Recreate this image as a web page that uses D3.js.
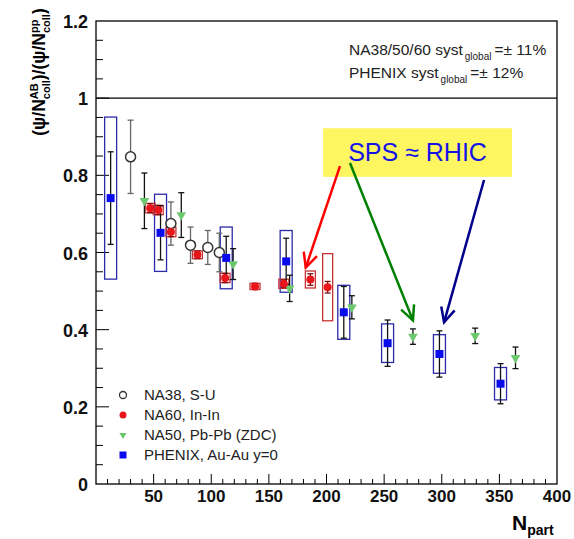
<!DOCTYPE html>
<html>
<head>
<meta charset="utf-8">
<script src="https://cdn.jsdelivr.net/npm/d3@7"></script>
<style>
  body { margin: 0; background: #fff; }
  svg { font-family: "Liberation Sans", Arial, sans-serif; }
</style>
</head>
<body>
<svg id="chart" width="574" height="539"></svg>
<script>
// NA38, S-U (open circles)
var na38Npart = [30, 65, 82, 97, 107];
var na38Ratio = [0.848, 0.675, 0.619, 0.613, 0.600];
var na38Stat = [0.095, 0.056, 0.047, 0.044, 0.05];

// NA60, In-In (red dots + syst boxes)
var na60Npart = [47, 54, 65, 88, 112, 138, 163, 186, 201];
var na60Ratio = [0.715, 0.71, 0.653, 0.594, 0.534, 0.512, 0.519, 0.530, 0.510];
var na60Stat = [0.012, 0.012, 0.012, 0.01, 0.012, 0.008, 0.01, 0.015, 0.015];
var na60Syst = [0.012, 0.012, 0.012, 0.01, 0.012, 0.008, 0.012, 0.022, 0.087];

// NA50, Pb-Pb (ZDC) (green triangles)
var na50Npart = [42, 74, 119, 168, 222, 275, 329, 364];
var na50Ratio = [0.734, 0.697, 0.570, 0.507, 0.458, 0.382, 0.384, 0.327];
var na50Stat = [0.072, 0.058, 0.04, 0.034, 0.03, 0.02, 0.02, 0.028];

// PHENIX, Au-Au y=0 (blue squares + syst boxes)
var phenixNpart = [12.7, 56, 113, 165, 215, 253, 298, 351];
var phenixRatio = [0.741, 0.651, 0.586, 0.577, 0.445, 0.365, 0.337, 0.260];
var phenixStat = [0.12, 0.07, 0.056, 0.06, 0.067, 0.06, 0.06, 0.052];
var phenixSyst = [0.21, 0.10, 0.08, 0.08, 0.07, 0.05, 0.05, 0.042];

var xTicks = [50, 100, 150, 200, 250, 300, 350, 400];
var yTicks = [0, 0.2, 0.4, 0.6, 0.8, 1, 1.2];

// annotation "SPS ~ RHIC": box and arrows in data units [Npart, ratio]
var noteBox = [[197, 0.922], [361, 0.796]];
var noteArrows = [
  { from: [211.7, 0.824], to: [182, 0.561], color: "#ff0000" },
  { from: [220.4, 0.832], to: [275, 0.424], color: "#008000" },
  { from: [336.7, 0.788], to: [302, 0.419], color: "#00008b" },
];

var margin = { top: 21, right: 17, bottom: 55, left: 96 },
  width = 574 - margin.left - margin.right,
  height = 539 - margin.top - margin.bottom;

var x = d3.scaleLinear().domain([0, 400]).range([0, width]);
var y = d3.scaleLinear().domain([0, 1.2]).range([height, 0]);

var svg = d3.select("#chart");
var g = svg.append("g").attr("transform", `translate(${margin.left},${margin.top})`);

// ticks pointing inward, ROOT style
var xAxis = g.append("g").attr("transform", `translate(0,${height})`);
xAxis.selectAll("line.minor")
  .data(d3.range(10, 400, 10))
  .enter().append("line")
  .attr("x1", (d) => x(d)).attr("x2", (d) => x(d))
  .attr("y1", 0).attr("y2", (d) => (d % 50 == 0 ? -10 : -5))
  .attr("stroke", "#000");
xAxis.selectAll("text")
  .data(xTicks)
  .enter().append("text")
  .attr("x", (d) => x(d)).attr("y", 18)
  .attr("text-anchor", "middle")
  .attr("font-size", 17).attr("font-weight", "bold").attr("fill", "#111")
  .text((d) => d);

var yAxis = g.append("g");
yAxis.selectAll("line")
  .data(d3.range(1, 24).map((i) => i * 0.05))
  .enter().append("line")
  .attr("x1", 0)
  .attr("x2", (d, i) => ((i + 1) % 4 == 0 ? 13 : 7))
  .attr("y1", (d) => y(d)).attr("y2", (d) => y(d))
  .attr("stroke", "#000");
yAxis.selectAll("text")
  .data(yTicks)
  .enter().append("text")
  .attr("x", -8).attr("y", (d) => y(d) + 7)
  .attr("text-anchor", "end")
  .attr("font-size", 18).attr("font-weight", "bold").attr("fill", "#111")
  .text((d) => d);

// frame and the line at ratio = 1
g.append("rect")
  .attr("width", width).attr("height", height)
  .attr("fill", "none").attr("stroke", "#000").attr("stroke-width", 1.3);
g.append("line")
  .attr("x1", 0).attr("x2", width)
  .attr("y1", y(1)).attr("y2", y(1))
  .attr("stroke", "#000").attr("stroke-width", 1.3);

// systematic boxes
function drawBoxes(nparts, ratios, systs, color, halfW) {
  g.append("g").selectAll("rect")
    .data(nparts)
    .enter().append("rect")
    .attr("x", (d) => x(d) - halfW)
    .attr("width", halfW * 2)
    .attr("y", (d, i) => y(ratios[i] + systs[i]))
    .attr("height", (d, i) => y(ratios[i] - systs[i]) - y(ratios[i] + systs[i]))
    .attr("fill", "none").attr("stroke", color).attr("stroke-width", 1.3);
}

function drawErrors(nparts, ratios, errs, color) {
  var eg = g.append("g").attr("stroke", color).attr("stroke-width", 1.3);
  nparts.forEach(function (n, i) {
    var cx = x(n), y1 = y(ratios[i] + errs[i]), y2 = y(ratios[i] - errs[i]);
    eg.append("line").attr("x1", cx).attr("x2", cx).attr("y1", y1).attr("y2", y2);
    eg.append("line").attr("x1", cx - 3).attr("x2", cx + 3).attr("y1", y1).attr("y2", y1);
    eg.append("line").attr("x1", cx - 3).attr("x2", cx + 3).attr("y1", y2).attr("y2", y2);
  });
}

drawBoxes(phenixNpart, phenixRatio, phenixSyst, "#2b2ba8", 6);
drawBoxes(na60Npart, na60Ratio, na60Syst, "#c83232", 5);

drawErrors(na38Npart, na38Ratio, na38Stat, "#666");
drawErrors(na50Npart, na50Ratio, na50Stat, "#111");
drawErrors(na60Npart, na60Ratio, na60Stat, "#7a1010");
drawErrors(phenixNpart, phenixRatio, phenixStat, "#111");

var tri = d3.symbol().type(d3.symbolTriangle).size(40);

g.append("g").selectAll("circle")
  .data(na38Npart)
  .enter().append("circle")
  .attr("cx", (d) => x(d)).attr("cy", (d, i) => y(na38Ratio[i]))
  .attr("r", 5).attr("fill", "#fff").attr("stroke", "#333").attr("stroke-width", 1.5);

g.append("g").selectAll("path")
  .data(na50Npart)
  .enter().append("path")
  .attr("d", tri)
  .attr("transform", (d, i) => `translate(${x(d)},${y(na50Ratio[i])}) rotate(180)`)
  .attr("fill", "#6cc86c");

g.append("g").selectAll("circle")
  .data(na60Npart)
  .enter().append("circle")
  .attr("cx", (d) => x(d)).attr("cy", (d, i) => y(na60Ratio[i]))
  .attr("r", 4).attr("fill", "#e8161a");

g.append("g").selectAll("rect")
  .data(phenixNpart)
  .enter().append("rect")
  .attr("x", (d) => x(d) - 4).attr("y", (d, i) => y(phenixRatio[i]) - 4)
  .attr("width", 8).attr("height", 8)
  .attr("fill", "#0a0aee");

// legend
var legendItems = [
  { label: "NA38, S-U", kind: "circle" },
  { label: "NA60, In-In", kind: "dot" },
  { label: "NA50, Pb-Pb (ZDC)", kind: "tri" },
  { label: "PHENIX, Au-Au y=0", kind: "square" },
];
var legend = g.append("g").attr("transform", `translate(${123 - margin.left},${395 - margin.top})`);
legendItems.forEach(function (item, i) {
  var row = legend.append("g").attr("transform", `translate(0,${i * 20})`);
  if (item.kind == "circle") {
    row.append("circle").attr("r", 3.5).attr("fill", "none").attr("stroke", "#333").attr("stroke-width", 1.3);
  } else if (item.kind == "dot") {
    row.append("circle").attr("r", 3.5).attr("fill", "#e8161a");
  } else if (item.kind == "tri") {
    row.append("path").attr("d", d3.symbol().type(d3.symbolTriangle).size(22)).attr("transform", "rotate(180)").attr("fill", "#6cc86c");
  } else {
    row.append("rect").attr("x", -3.5).attr("y", -3.5).attr("width", 7).attr("height", 7).attr("fill", "#0a0aee");
  }
  row.append("text").attr("x", 21).attr("y", 5).attr("font-size", 15).attr("fill", "#222").text(item.label);
});

// global systematics text
var syst = g.append("g").attr("font-size", 15.5).attr("fill", "#222");
[["NA38/50/60 syst", "=\u00b1 11%"], ["PHENIX syst", "=\u00b1 12%"]].forEach(function (s, i) {
  var t = syst.append("text").attr("x", 349 - margin.left).attr("y", 55 - margin.top + i * 23);
  t.append("tspan").text(s[0]);
  t.append("tspan").attr("font-size", 10).attr("dy", 5).attr("dx", 2).text("global");
  t.append("tspan").attr("dy", -5).attr("dx", 3).text(s[1]);
});

// annotation
var nb = g.append("g");
nb.append("rect")
  .attr("x", x(noteBox[0][0])).attr("y", y(noteBox[0][1]))
  .attr("width", x(noteBox[1][0]) - x(noteBox[0][0]))
  .attr("height", y(noteBox[1][1]) - y(noteBox[0][1]))
  .attr("fill", "#fdf660");
nb.append("text")
  .attr("x", (x(noteBox[0][0]) + x(noteBox[1][0])) / 2)
  .attr("y", y(noteBox[0][1]) + 33)
  .attr("text-anchor", "middle")
  .attr("font-size", 25).attr("fill", "#1414e6")
  .text("SPS \u2248 RHIC");

noteArrows.forEach(function (a) {
  var x1 = x(a.from[0]), y1 = y(a.from[1]), x2 = x(a.to[0]), y2 = y(a.to[1]);
  var ang = Math.atan2(y2 - y1, x2 - x1), L = 16, spread = 0.45;
  var ag = g.append("g").attr("stroke", a.color).attr("stroke-width", 2.5).attr("fill", "none");
  ag.append("line").attr("x1", x1).attr("y1", y1).attr("x2", x2).attr("y2", y2);
  ag.append("path").attr("d",
    `M${x2 - L * Math.cos(ang - spread)},${y2 - L * Math.sin(ang - spread)}` +
    `L${x2},${y2}L${x2 - L * Math.cos(ang + spread)},${y2 - L * Math.sin(ang + spread)}`);
});

// axis titles
var xt = svg.append("text").attr("x", 512).attr("y", 530).attr("font-weight", "bold");
xt.append("tspan").attr("font-size", 21).text("N");
xt.append("tspan").attr("font-size", 14).attr("dy", 5).text("part");

var yt = svg.append("text")
  .attr("transform", "translate(45,72) rotate(-90)")
  .attr("text-anchor", "middle")
  .attr("font-size", 17.5).attr("font-weight", "bold");
yt.append("tspan").text("(\u03c8/N");
var supA = yt.append("tspan").text("AB").attr("font-size", 11).attr("dy", -7);
var subA = yt.append("tspan").text("coll").attr("font-size", 11).attr("dy", 12);
yt.append("tspan").text(")/(\u03c8/N").attr("dy", -5);
var supB = yt.append("tspan").text("pp").attr("font-size", 11).attr("dy", -7);
var subB = yt.append("tspan").text("coll").attr("font-size", 11).attr("dy", 12);
yt.append("tspan").text(")").attr("dy", -5);
// stack sub under sup
subA.attr("dx", -supA.node().getComputedTextLength());
subB.attr("dx", -supB.node().getComputedTextLength());
</script>
</body>
</html>
